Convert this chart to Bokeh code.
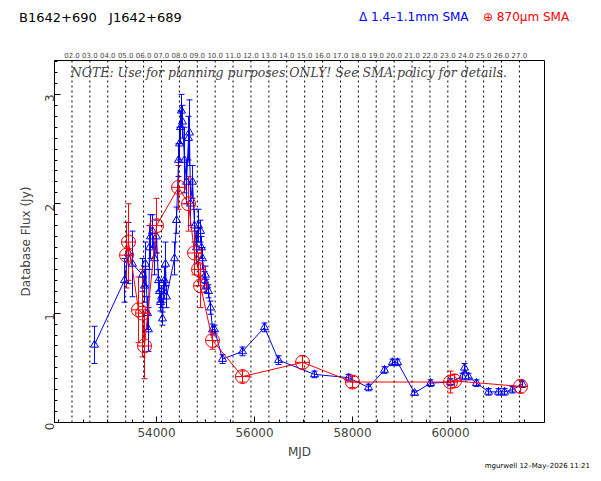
import numpy as np
from bokeh.plotting import figure
from bokeh.layouts import column
from bokeh.models import (Label, LinearAxis, FixedTicker, Range1d, Span, Whisker,
                          ColumnDataSource, TeeHead, Div)
from bokeh.embed import file_html
from bokeh.resources import INLINE

# 1.4-1.1mm data (MJD, Jy, err)
mm_mjd = [52734, 53347, 53428, 53510, 53714, 53755, 53775, 53816, 53836, 53857, 53877, 53918,
          53959, 54000, 54040, 54061, 54081, 54102, 54122, 54143, 54163, 54183, 54204, 54367,
          54408, 54449, 54469, 54490, 54510, 54530, 54571, 54612, 54653, 54673, 54694, 54735,
          54775, 54816, 54857, 54898, 54918, 54939, 54980, 55000, 55020, 55061, 55102, 55143,
          55184, 55347, 55755, 56204, 56490, 57225, 57919, 58327, 58653, 58816, 58919, 59266,
          59592, 60000, 60245, 60286, 60367, 60531, 60776, 60980, 61102, 61265, 61469]
mm_flux = [0.71, 1.3, 1.55, 1.45, 1.35, 1.25, 1.45, 1.0, 0.85, 1.6, 1.7, 1.75,
           1.5, 1.7, 1.3, 1.2, 1.1, 1.15, 0.95, 1.2, 1.3, 1.45, 1.15, 1.5,
           1.85, 2.4, 2.55, 2.7, 2.85, 2.75, 2.4, 2.2, 2.6, 2.65, 2.0, 2.2,
           1.8, 1.6, 1.8, 1.75, 1.6, 1.5, 1.3, 1.35, 1.25, 1.2, 1.05, 0.85,
           0.85, 0.58, 0.65, 0.87, 0.57, 0.44, 0.41, 0.32, 0.48, 0.55, 0.55, 0.27,
           0.36, 0.37, 0.42, 0.5, 0.42, 0.36, 0.28, 0.28, 0.28, 0.3, 0.35]
mm_err = [0.17, 0.2, 0.28, 0.3, 0.15, 0.15, 0.2, 0.15, 0.2, 0.2, 0.2, 0.15,
          0.15, 0.15, 0.1, 0.1, 0.08, 0.1, 0.06, 0.1, 0.12, 0.2, 0.1, 0.15,
          0.12, 0.15, 0.15, 0.15, 0.15, 0.15, 0.3, 0.2, 0.2, 0.3, 0.2, 0.15,
          0.15, 0.15, 0.15, 0.1, 0.1, 0.1, 0.08, 0.08, 0.06, 0.06, 0.06, 0.05,
          0.04, 0.04, 0.04, 0.04, 0.04, 0.03, 0.03, 0.03, 0.03, 0.03, 0.03, 0.02,
          0.03, 0.03, 0.03, 0.04, 0.03, 0.03, 0.03, 0.03, 0.03, 0.03, 0.03]

# 870um data
sub_mjd = [53388, 53428, 53632, 53714, 53755, 54000, 54449, 54653, 54775, 54857, 54898,
           55143, 55755, 56980, 58000, 60000, 60082, 61429]
sub_flux = [1.53, 1.65, 1.03, 1.0, 0.7, 1.8, 2.15, 2.0, 1.55, 1.4, 1.25,
            0.75, 0.42, 0.55, 0.37, 0.37, 0.38, 0.33]
sub_err = [0.3, 0.35, 0.3, 0.4, 0.3, 0.25, 0.2, 0.25, 0.2, 0.15, 0.2,
           0.08, 0.05, 0.06, 0.05, 0.1, 0.06, 0.06]

years = list(range(2002, 2028))
year_mjd = [52275 + round((y - 2002) * 365.25) for y in years]
year_labels = ["%02d.0" % (y - 2000) for y in years]

p = figure(frame_width=490, frame_height=362, output_backend="svg", toolbar_location=None,
           x_range=Range1d(51918, 61918), y_range=Range1d(0, 3.31),
           min_border_left=54, min_border_top=28, min_border_right=41, min_border_bottom=48,
           x_axis_label="MJD", y_axis_label="Database Flux (Jy)")
p.outline_line_color = "black"
p.grid.visible = False

for ax in [p.xaxis[0], p.yaxis[0]]:
    ax.major_tick_in = 6
    ax.major_tick_out = 0
    ax.minor_tick_in = 3
    ax.minor_tick_out = 0
    ax.axis_label_text_font = "DejaVu Sans"
    ax.axis_label_text_font_style = "normal"
    ax.axis_label_text_font_size = "12px"
    ax.major_label_text_font_size = "12px"
    ax.major_label_text_font = "DejaVu Sans"
p.xaxis.ticker = FixedTicker(ticks=[54000, 56000, 58000, 60000],
                             minor_ticks=list(range(52000, 62000, 500)))
p.yaxis.ticker = FixedTicker(ticks=[0, 1, 2, 3],
                             minor_ticks=[i / 10 for i in range(0, 34)])
p.yaxis.major_label_orientation = np.pi / 2

top = LinearAxis(ticker=FixedTicker(ticks=year_mjd),
                 major_label_overrides={m: l for m, l in zip(year_mjd, year_labels)},
                 major_tick_in=0, major_tick_out=0, minor_tick_out=0,
                 major_label_text_font_size="7px", major_label_text_font="DejaVu Sans",
                 major_label_standoff=3, axis_line_color=None)
p.add_layout(top, "above")

for m in year_mjd:
    p.add_layout(Span(location=m, dimension="height", line_color="black",
                      line_dash="2 3", line_width=1))

mm = ColumnDataSource(dict(x=mm_mjd, y=mm_flux,
                           lo=[f - e for f, e in zip(mm_flux, mm_err)],
                           hi=[f + e for f, e in zip(mm_flux, mm_err)]))
sub = ColumnDataSource(dict(x=sub_mjd, y=sub_flux,
                            lo=[f - e for f, e in zip(sub_flux, sub_err)],
                            hi=[f + e for f, e in zip(sub_flux, sub_err)]))

p.add_layout(Whisker(source=mm, base="x", lower="lo", upper="hi", dimension="height",
                     line_color="blue",
                     upper_head=TeeHead(size=6, line_color="blue"),
                     lower_head=TeeHead(size=6, line_color="blue")))
p.line("x", "y", source=mm, color="blue", line_width=1)
p.scatter("x", "y", source=mm, marker="triangle", size=8, fill_color=None,
          line_color="blue", line_width=1)

p.add_layout(Whisker(source=sub, base="x", lower="lo", upper="hi", dimension="height",
                     line_color="red",
                     upper_head=TeeHead(size=6, line_color="red"),
                     lower_head=TeeHead(size=6, line_color="red")))
p.line("x", "y", source=sub, color="red", line_width=1)
p.scatter("x", "y", source=sub, marker="circle_cross", size=14, fill_color=None,
          line_color="red", line_width=1)

p.add_layout(Label(x=52250, y=3.13,
                   text="NOTE: Use for planning purposes ONLY!  See SMA policy for details.",
                   text_font="DejaVu Serif", text_font_style="italic", text_font_size="12.5px"))

head = Div(width=585, height=22, text=(
    "<div style='font-family:DejaVu Sans;font-size:12px;position:relative;width:585px;height:22px'>"
    "<span style='position:absolute;left:14px;top:4px;font-size:13px'>B1642+690&nbsp;&nbsp; J1642+689</span>"
    "<span style='position:absolute;left:354px;top:4px;color:blue'>&#916; 1.4&#8211;1.1mm SMA</span>"
    "<span style='position:absolute;left:478px;top:4px;color:red'>&#8853; 870&#956;m SMA</span>"
    "</div>"))
foot = Div(width=585, height=10, styles={"margin-top": "-14px"}, text=(
    "<div style='font-family:DejaVu Sans;font-size:7px;text-align:right;width:585px'>"
    "mgurwell 12&#8211;May&#8211;2026 11:21</div>"))

open("out.html", "w").write(file_html(column(head, p, foot, spacing=0), INLINE))
